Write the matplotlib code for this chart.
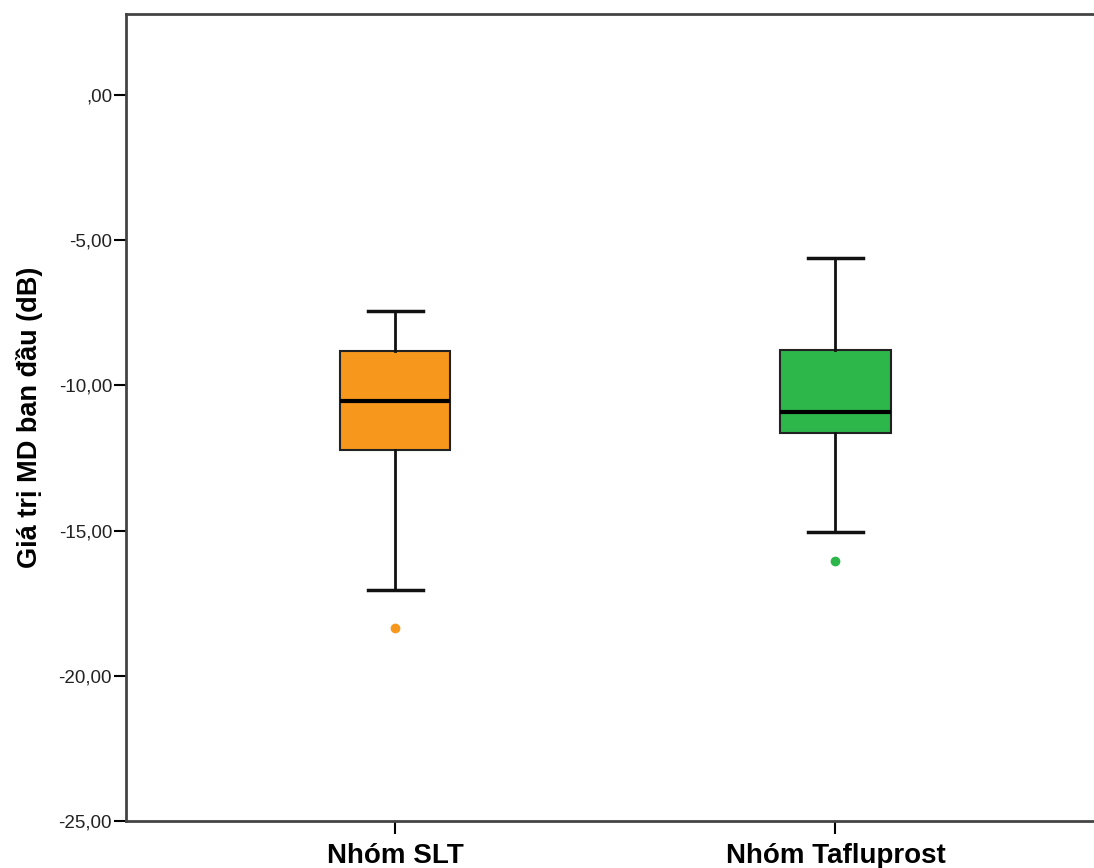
import matplotlib.pyplot as plt

# box statistics
groups = ["Nhóm SLT", "Nhóm Tafluprost"]
whislo = [-17.05, -15.06]
q1 = [-12.22, -11.63]
med = [-10.54, -10.91]
q3 = [-8.80, -8.79]
whishi = [-7.43, -5.60]
outliers = [[-18.35], [-16.04]]
colors = ["#F7981D", "#2DB64A"]

yticks = [0, -5, -10, -15, -20, -25]
ytick_labels = [",00", "-5,00", "-10,00", "-15,00", "-20,00", "-25,00"]

plt.rcParams["font.family"] = ["Liberation Sans", "DejaVu Sans"]

fig = plt.figure(figsize=(10.94, 8.68), dpi=100)
ax = fig.add_axes([126 / 1094, 47 / 868, 968 / 1094, 807 / 868])

stats = []
for i in range(len(groups)):
    stats.append({
        "whislo": whislo[i], "q1": q1[i], "med": med[i],
        "q3": q3[i], "whishi": whishi[i], "fliers": outliers[i],
    })

bp = ax.bxp(stats, positions=[1, 2], widths=0.25, capwidths=0.125,
            patch_artist=True, showfliers=True,
            boxprops=dict(edgecolor="#222222", linewidth=1.5),
            medianprops=dict(color="black", linewidth=3),
            whiskerprops=dict(color="#111111", linewidth=2),
            capprops=dict(color="#111111", linewidth=2.5))

for patch, c in zip(bp["boxes"], colors):
    patch.set_facecolor(c)
for fl, c in zip(bp["fliers"], colors):
    fl.set(marker="o", markerfacecolor=c, markeredgecolor=c, markersize=6)

ax.set_xlim(0.389, 2.587)
ax.set_ylim(-25, 2.79)

ax.set_yticks(yticks)
ax.set_yticklabels(ytick_labels, fontsize=13.5, color="#222222")
ax.set_xticks([1, 2])
ax.set_xticklabels(groups, fontsize=20, fontweight="bold")
ax.tick_params(axis="y", length=9, width=1.5, pad=1)
ax.tick_params(axis="x", length=9.5, width=1.5, pad=6)

ax.set_ylabel("Giá trị MD ban đầu (dB)", fontsize=19.5, fontweight="bold", labelpad=11)

ax.spines["right"].set_visible(False)
for s in ["left", "top", "bottom"]:
    ax.spines[s].set_linewidth(2)
    ax.spines[s].set_color("#444444")

plt.savefig("out.png", dpi=100)
plt.close()
